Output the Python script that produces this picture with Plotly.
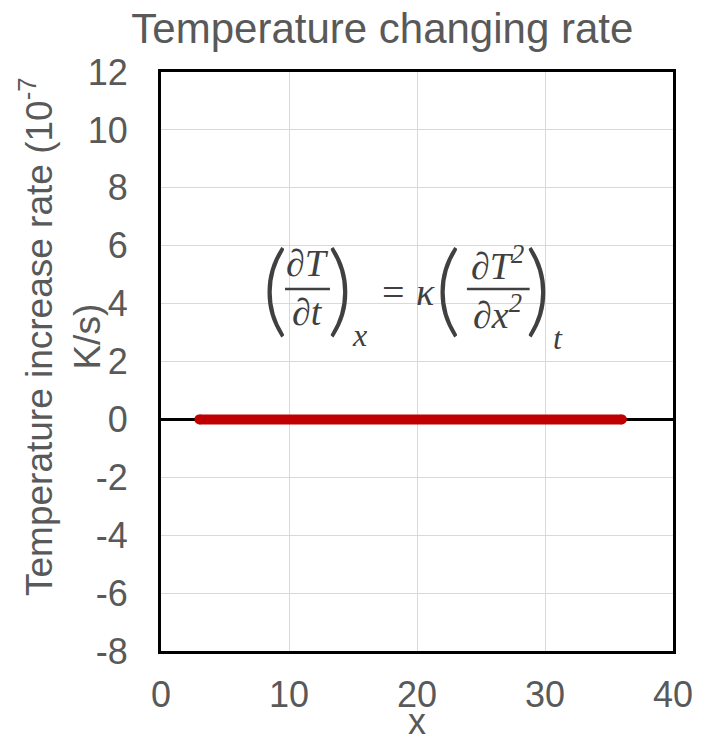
import plotly.graph_objects as go

# data
x_vals = list(range(3, 37))
y_vals = [0] * len(x_vals)
x_ticks = [0, 10, 20, 30, 40]
y_ticks = [-8, -6, -4, -2, 0, 2, 4, 6, 8, 10, 12]
y_tick_text = ["-8", "-6", "-4", "-2", "0", "2", "4", "6", "8", "10", "12"]

title_text = "Temperature changing rate"
x_title = "x"
y_title = "Temperature increase rate (10<sup>-7</sup><br>K/s)"

fig = go.Figure()
fig.add_trace(go.Scatter(
    x=x_vals, y=y_vals, mode="lines",
    line=dict(color="#C00000", width=10),
    showlegend=False, hoverinfo="skip",
))
# round end caps
fig.add_trace(go.Scatter(
    x=[x_vals[0], x_vals[-1]], y=[y_vals[0], y_vals[-1]], mode="markers",
    marker=dict(color="#C00000", size=10, line=dict(width=0)),
    showlegend=False, hoverinfo="skip",
))

font_main = "Liberation Sans, Arial, sans-serif"
grey = "#595959"

fig.update_layout(
    width=716, height=736,
    margin=dict(l=161, r=43, t=72, b=85),
    paper_bgcolor="white", plot_bgcolor="white",
    font=dict(family=font_main, color=grey, size=36),
    title=dict(text=title_text, x=0.534, xref="container", xanchor="center",
               y=1 - 28 / 736, yref="container", yanchor="middle",
               font=dict(size=42, color=grey, family=font_main)),
)
fig.update_xaxes(
    range=[0, 40], tickvals=x_ticks, showgrid=True, gridcolor="#d9d9d9", gridwidth=1,
    showline=True, mirror=True, linecolor="black", linewidth=3,
    zeroline=False, ticks="", ticklabelstandoff=10, automargin=False,
    tickfont=dict(size=36, color=grey),
)
fig.update_yaxes(
    range=[-8, 12], tickvals=y_ticks, ticktext=y_tick_text, showgrid=True,
    gridcolor="#d9d9d9", gridwidth=1, automargin=False,
    showline=True, mirror=True, linecolor="black", linewidth=3,
    zeroline=True, zerolinecolor="black", zerolinewidth=3, ticks="", ticklabelstandoff=23,
    tickfont=dict(size=36, color=grey),
)

# axis titles as annotations
fig.add_annotation(text=y_title, xref="paper", yref="paper",
                   x=(60 - 161) / 512, y=(651 - 337) / 579, textangle=-90,
                   showarrow=False, xanchor="center", yanchor="middle",
                   font=dict(size=37, color=grey, family=font_main))
fig.add_annotation(text=x_title, xref="paper", yref="paper",
                   x=0.5, y=(651 - 721) / 579,
                   showarrow=False, xanchor="center", yanchor="middle",
                   font=dict(size=36, color=grey, family=font_main))

# equation
eq_font = "Liberation Serif, DejaVu Serif, serif"
eq_col = "#404040"
def ann(text, x, y, size, italic=True, family=eq_font, weight=None):
    t = f"<i>{text}</i>" if italic else text
    f = dict(family=family, size=size, color=eq_col)
    if weight:
        f["weight"] = weight
    fig.add_annotation(x=x, y=y, xref="x", yref="y", text=t, showarrow=False,
                       font=f, xanchor="center", yanchor="middle")

paren_font = "Lato, Open Sans, sans-serif"
ann("(", 8.9, 4.65, 100, italic=False, family=paren_font, weight=300)
ann("∂T", 11.45, 5.4, 38)
ann("∂t", 11.45, 3.7, 38)
ann(")", 13.98, 4.65, 100, italic=False, family=paren_font, weight=300)
ann("x", 15.5, 2.9, 32)
ann("=", 18.15, 4.40, 40, italic=False)
ann("κ", 20.7, 4.40, 38)
ann("(", 22.4, 4.65, 100, italic=False, family=paren_font, weight=300)
ann("∂T<sup>2</sup>", 26.25, 5.4, 38)
ann("∂x<sup>2</sup>", 26.25, 3.7, 38)
ann(")", 29.45, 4.65, 100, italic=False, family=paren_font, weight=300)
ann("t", 31.0, 2.8, 32)

fig.add_shape(type="line", xref="x", yref="y", x0=9.69, x1=13.2, y0=4.5, y1=4.5,
              line=dict(color=eq_col, width=2.5))
fig.add_shape(type="line", xref="x", yref="y", x0=23.9, x1=28.8, y0=4.5, y1=4.5,
              line=dict(color=eq_col, width=2.5))

fig.write_html("out.html")
